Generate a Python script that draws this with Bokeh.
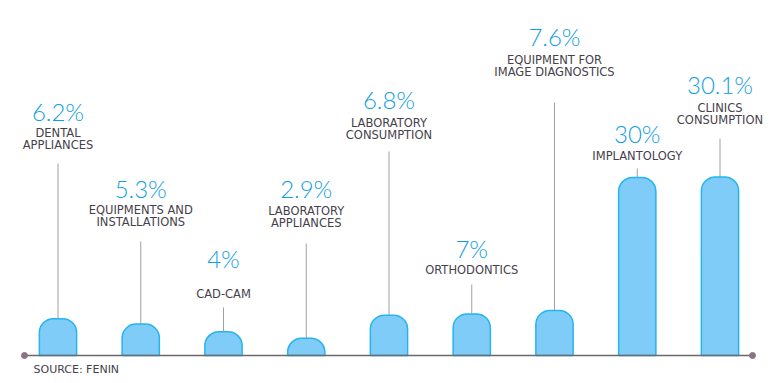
from bokeh.plotting import figure
from bokeh.models import ColumnDataSource, Range1d
from bokeh.core.properties import value
from bokeh.embed import file_html
from bokeh.resources import INLINE

# ---------------- data ----------------
categories = [
    "DENTAL\nAPPLIANCES",
    "EQUIPMENTS AND\nINSTALLATIONS",
    "CAD-CAM",
    "LABORATORY\nAPPLIANCES",
    "LABORATORY\nCONSUMPTION",
    "ORTHODONTICS",
    "EQUIPMENT FOR\nIMAGE DIAGNOSTICS",
    "IMPLANTOLOGY",
    "CLINICS\nCONSUMPTION",
]
shares = [6.2, 5.3, 4.0, 2.9, 6.8, 7.0, 7.6, 30.0, 30.1]
share_labels = ["6.2%", "5.3%", "4%", "2.9%", "6.8%", "7%", "7.6%", "30%", "30.1%"]
source_note = "SOURCE: FENIN"

# ---------------- layout (picture pixels) ----------------
W, H = 776, 380
ORIGIN = 0               # picture offset of the figure's top-left corner
PX_PER_UNIT = 5.933      # vertical pixels per percentage point
BASE_PAGE_Y = 355        # picture y of the zero line
STEP_X = 82.75           # pixels per category
FIRST_X = 57.5           # picture x of first category centre

pct_base_px = [120, 197, 267, 197, 108, 257, 45, 142, 93]
cat_base_px = [136, 213, 297, 214, 126, 273, 63, 159, 111]
leader_top_px = [163, 241, 307, 243, 151, 284, 102, 168, 138]
LINE_GAP_PX = 12.5
PCT_SHIFT = -9           # renderer baseline correction
CAT_SHIFT = -4

x_start = -(FIRST_X - ORIGIN) / STEP_X
x_end = x_start + W / STEP_X
y_end = (BASE_PAGE_Y - ORIGIN) / PX_PER_UNIT
y_start = y_end - H / PX_PER_UNIT


def py(page_y):
    return y_end - (page_y - ORIGIN) / PX_PER_UNIT


def px(page_x):
    return x_start + (page_x - ORIGIN) / STEP_X


xs = list(range(len(categories)))

p = figure(width=W, height=H, x_range=Range1d(x_start, x_end), y_range=Range1d(y_start, y_end),
           output_backend="svg", toolbar_location=None, min_border=0)
p.axis.visible = False
p.grid.visible = False
p.outline_line_color = None
p.background_fill_color = "white"
p.border_fill_color = "white"

# leader lines
p.segment(x0=xs, y0=shares, x1=xs, y1=[py(v) for v in leader_top_px],
          line_color="#a0a0a0", line_width=1)

# bars
bar_src = ColumnDataSource(dict(x=xs, top=shares))
p.vbar(x="x", top="top", bottom=0, width=0.45, source=bar_src,
       fill_color="#80ccf9", line_color="#25b4ee", line_width=1.5,
       border_radius=(14, 14, 0, 0))

# baseline
p.segment(x0=[px(24)], y0=[0], x1=[px(752)], y1=[0], line_color="#6a6a6a", line_width=1.5)
p.scatter(x=[px(24), px(752)], y=[0, 0], size=6, fill_color="#8a7483", line_color="#8a7483")

# percentage labels
p.text(x=xs, y=[py(v + PCT_SHIFT) for v in pct_base_px], text=share_labels,
       text_font=value("'Lato Light', 'Lato'"), text_font_size="24px", text_color="#129fe2",
       text_align="center", text_baseline="alphabetic")

# category labels (one glyph per line)
lx, ly, lt = [], [], []
for i, cat in enumerate(categories):
    for j, line in enumerate(cat.split("\n")):
        lx.append(xs[i])
        ly.append(py(cat_base_px[i] + CAT_SHIFT + j * LINE_GAP_PX))
        lt.append(line)
p.text(x=lx, y=ly, text=lt, text_font=value("DejaVu Sans"), text_font_size="11.5px",
       text_color="#463f4c", text_align="center", text_baseline="alphabetic")

# source note
p.text(x=[px(33)], y=[py(373 + CAT_SHIFT)], text=[source_note], text_font=value("DejaVu Sans"),
       text_font_size="11px", text_color="#463f4c", text_align="left",
       text_baseline="alphabetic")

open("out.html", "w").write(file_html(p, INLINE))
